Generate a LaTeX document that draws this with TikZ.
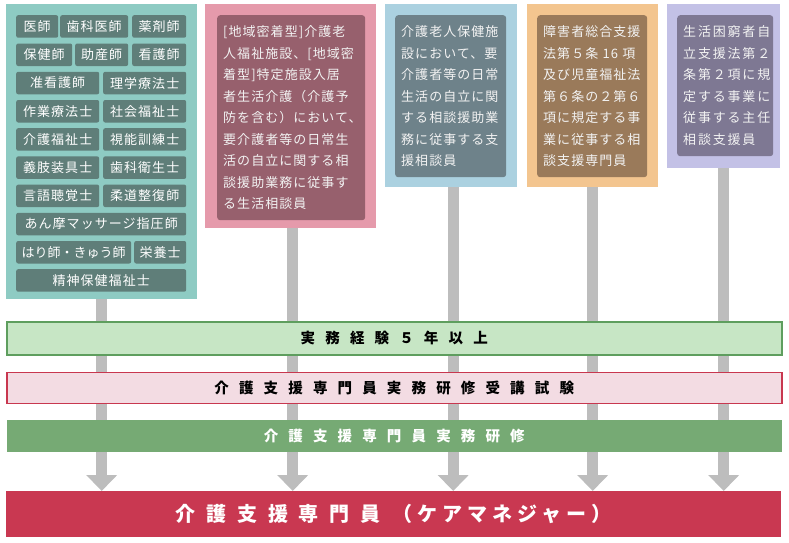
\documentclass[tikz,border=0pt]{standalone}
\usepackage{fontspec}
\setmainfont{Noto Sans CJK JP}
\usetikzlibrary{arrows.meta,positioning}

\definecolor{tealbg}{HTML}{8ECBC3}
\definecolor{tealtag}{HTML}{5F7E79}
\definecolor{pinkbg}{HTML}{E59AAB}
\definecolor{pinkin}{HTML}{97606D}
\definecolor{bluebg}{HTML}{ABD1E0}
\definecolor{bluein}{HTML}{6E828A}
\definecolor{orangebg}{HTML}{F3C58F}
\definecolor{orangein}{HTML}{9A7A5A}
\definecolor{purplebg}{HTML}{C3C1E6}
\definecolor{purplein}{HTML}{7E7893}
\definecolor{stemgray}{HTML}{BDBDBD}
\definecolor{lightgreen}{HTML}{C7E6C5}
\definecolor{darkgreenline}{HTML}{5E9E5E}
\definecolor{lightpink}{HTML}{F3DCE3}
\definecolor{redline}{HTML}{C8374F}
\definecolor{midgreen}{HTML}{76AA74}
\definecolor{carered}{HTML}{C93851}

\begin{document}
\begin{tikzpicture}[x=1pt,y=-1pt,node distance=16pt,
    col box/.style={anchor=north west,inner sep=0pt},
    tag/.style={anchor=north west,fill=tealtag,rounded corners=2pt,text=white,
      inner sep=0pt,minimum height=22.5pt,
      font=\fontsize{13}{13}\selectfont\addfontfeature{LetterSpace=8}},
    info/.style={anchor=north west,rounded corners=3pt,text=white!95!black,
      align=left,inner xsep=6pt,inner ysep=0pt,
      font=\fontsize{13}{21.5}\selectfont\addfontfeature{LetterSpace=8}},
    stem/.style={draw=stemgray,line width=11pt,-{Triangle[width=30pt,length=16pt]}},
    bar/.style={minimum width=775pt,inner sep=0pt,
      font=\fontsize{14.5}{14.5}\selectfont\bfseries\addfontfeature{LetterSpace=70}}]

  \useasboundingbox (0,0) rectangle (789,542);

  % columns
  \node[col box,fill=tealbg,minimum width=191pt,minimum height=295pt] (col1) at (6,4) {};
  \node[col box,fill=pinkbg,minimum width=171pt,minimum height=224pt] (col2) at (205,4) {};
  \node[col box,fill=bluebg,minimum width=132pt,minimum height=183pt] (col3) at (385,4) {};
  \node[col box,fill=orangebg,minimum width=131pt,minimum height=183pt] (col4) at (527,4) {};
  \node[col box,fill=purplebg,minimum width=113pt,minimum height=164pt] (col5) at (667,4) {};

  % qualifications
  \node[tag,minimum width=42pt] (t11) at (16,15) {医師};
  \node[tag,minimum width=68pt] (t12) at (60,15) {歯科医師};
  \node[tag,minimum width=54pt] (t13) at (132,15) {薬剤師};
  \node[tag,minimum width=56pt] (t21) at (16,43.3) {保健師};
  \node[tag,minimum width=53pt] (t22) at (75,43.3) {助産師};
  \node[tag,minimum width=54pt] (t23) at (132,43.3) {看護師};
  \node[tag,minimum width=83pt] (t31) at (16,71.6) {准看護師};
  \node[tag,minimum width=83pt] (t32) at (103,71.6) {理学療法士};
  \node[tag,minimum width=83pt] (t41) at (16,99.8) {作業療法士};
  \node[tag,minimum width=83pt] (t42) at (103,99.8) {社会福祉士};
  \node[tag,minimum width=83pt] (t51) at (16,128) {介護福祉士};
  \node[tag,minimum width=83pt] (t52) at (103,128) {視能訓練士};
  \node[tag,minimum width=83pt] (t61) at (16,156.2) {義肢装具士};
  \node[tag,minimum width=83pt] (t62) at (103,156.2) {歯科衛生士};
  \node[tag,minimum width=83pt] (t71) at (16,184.4) {言語聴覚士};
  \node[tag,minimum width=83pt] (t72) at (103,184.4) {柔道整復師};
  \node[tag,minimum width=170pt] (t81) at (16,212.6) {あん摩マッサージ指圧師};
  \node[tag,minimum width=115pt,font=\fontsize{13}{13}\selectfont] (t91) at (16,240.8) {はり師・きゅう師};
  \node[tag,minimum width=52pt] (t92) at (134,240.8) {栄養士};
  \node[tag,minimum width=170pt] (t101) at (16,269) {精神保健福祉士};

  % job descriptions
  \node[info,fill=pinkin,text width=136pt,minimum height=205pt] (in2) at (217,15)
    {[地域密着型]介護老\\人福祉施設、[地域密\\着型]特定施設入居\\者生活介護（介護予\\防を含む）において、\\要介護者等の日常生\\活の自立に関する相\\談援助業務に従事す\\る生活相談員};
  \node[info,fill=bluein,text width=99pt,minimum height=162pt] (in3) at (395,15)
    {介護老人保健施\\設において、要\\介護者等の日常\\生活の自立に関\\する相談援助業\\務に従事する支\\援相談員};
  \node[info,fill=orangein,text width=98pt,minimum height=162pt] (in4) at (537,15)
    {障害者総合支援\\法第５条 16 項\\及び児童福祉法\\第６条の２第６\\項に規定する事\\業に従事する相\\談支援専門員};
  \node[info,fill=purplein,text width=84pt,minimum height=141pt,
    font=\fontsize{13}{21.5}\selectfont\addfontfeature{LetterSpace=14}] (in5) at (677,15)
    {生活困窮者自\\立支援法第２\\条第２項に規\\定する事業に\\従事する主任\\相談支援員};

  % arrows
  \coordinate (goal) at (0,491);
  \draw[stem] (col1.south) -- (col1.south |- goal);
  \draw[stem] ([xshift=2pt]col2.south) -- ([xshift=2pt]col2.south |- goal);
  \draw[stem] ([xshift=2pt]col3.south) -- ([xshift=2pt]col3.south |- goal);
  \draw[stem] (col4.south) -- (col4.south |- goal);
  \draw[stem] (col5.south) -- (col5.south |- goal);

  % steps
  \node[bar,anchor=north west,fill=lightgreen,draw=darkgreenline,line width=1.5pt,
    minimum height=33pt] (exp) at (6,321) {実務経験５年以上};
  \node[bar,fill=lightpink,draw=redline,line width=1.5pt,minimum height=31pt,
    below=of exp] (exam) {介護支援専門員実務研修受講試験};
  \node[bar,fill=midgreen,text=white,minimum height=32pt,below=of exam] (train)
    {介護支援専門員実務研修};
  \node[bar,fill=carered,text=white,minimum height=46pt,anchor=north west,
    font=\fontsize{20}{20}\selectfont\bfseries] (cm) at (6,491)
    {{\addfontfeature{LetterSpace=54}介護支援専門員}\hspace{12pt}{\addfontfeature{LetterSpace=25}（ケアマネジャー）}};
\end{tikzpicture}
\end{document}
